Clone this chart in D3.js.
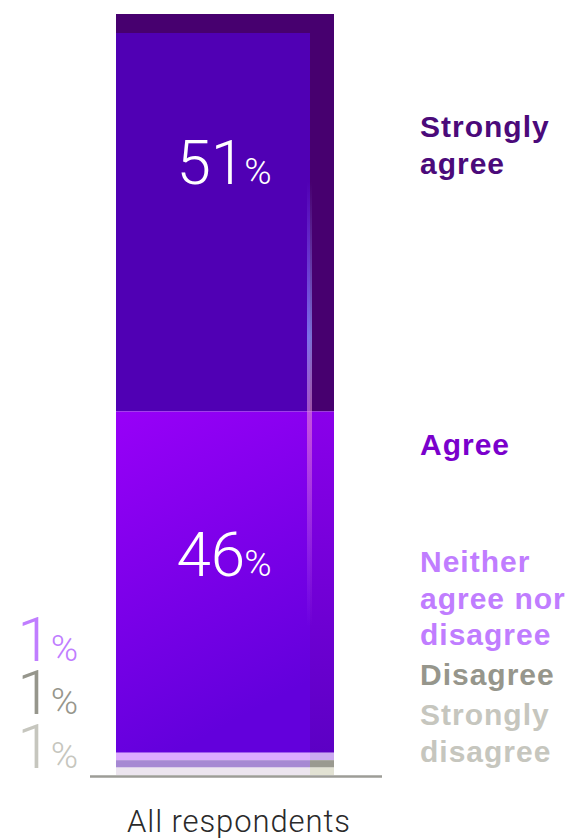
<!DOCTYPE html>
<html>
<head>
<meta charset="utf-8">
<script src="https://cdn.jsdelivr.net/npm/d3@7"></script>
<style>
  html, body { margin: 0; padding: 0; background: #ffffff; }
  svg { display: block; }
</style>
</head>
<body>
<svg id="chart" width="573" height="839"></svg>
<script>
// ---- data ----
const groups = ["All respondents"];
const categories = ["Strongly agree", "Agree", "Neither agree nor disagree", "Disagree", "Strongly disagree"];
const values = [51, 46, 1, 1, 1];
const valueLabels = ["51", "46", "1", "1", "1"];
const labelLines = [["Strongly", "agree"], ["Agree"], ["Neither", "agree nor", "disagree"], ["Disagree"], ["Strongly", "disagree"]];

// ---- styling ----
const frontColors = ["#5000b4", "url(#agreeFront)", "#dda9ff", "#a688d3", "#ece5ef"];
const sideColors  = ["#47006f", "url(#agreeSide)", "#cba9f1", "#9a9a90", "#e2e2d3"];
const textColors  = ["#4b0a7a", "#7a00cc", "#c07dff", "#96968c", "#c6c6be"];

const svg = d3.select("#chart");
const defs = svg.append("defs");
const gf = defs.append("linearGradient").attr("id", "agreeFront").attr("x1", 0).attr("y1", 0).attr("x2", 0.3).attr("y2", 1);
gf.append("stop").attr("offset", "0%").attr("stop-color", "#9800f8");
gf.append("stop").attr("offset", "100%").attr("stop-color", "#6300dc");
const gs = defs.append("linearGradient").attr("id", "agreeSide").attr("x1", 0).attr("y1", 0).attr("x2", 0).attr("y2", 1);
gs.append("stop").attr("offset", "0%").attr("stop-color", "#8a00ea");
gs.append("stop").attr("offset", "100%").attr("stop-color", "#5c00c4");
const gh = defs.append("linearGradient").attr("id", "streak").attr("x1", 0).attr("y1", 0).attr("x2", 0).attr("y2", 1);
gh.append("stop").attr("offset", "0%").attr("stop-color", "#9a8cff").attr("stop-opacity", 0);
gh.append("stop").attr("offset", "35%").attr("stop-color", "#8fa0ff").attr("stop-opacity", 0.7);
gh.append("stop").attr("offset", "55%").attr("stop-color", "#ff9ad0").attr("stop-opacity", 0.5);
gh.append("stop").attr("offset", "100%").attr("stop-color", "#e0a0ff").attr("stop-opacity", 0);

// scales
const y = d3.scaleLinear().domain([0, 100]).range([775, 33]);
const x = d3.scaleBand().domain(groups).range([116, 334]).padding(0);
const sideW = 24;    // depth strip on the right
const topH = 19;     // depth strip on top

// stack from the top (first category on top)
let acc = d3.sum(values);
const segs = values.map((v, i) => { const s = { i, y1: acc, y0: acc - v, v }; acc -= v; return s; });

const g = svg.append("g");
const bx = x(groups[0]), bw = x.bandwidth();

// top depth strip
g.append("rect")
  .attr("x", bx).attr("width", bw)
  .attr("y", y(100) - topH).attr("height", topH)
  .attr("fill", sideColors[0]);

// front faces
g.selectAll("rect.front").data(segs).join("rect")
  .attr("class", "front")
  .attr("x", bx).attr("width", bw - sideW)
  .attr("y", d => y(d.y1)).attr("height", d => y(d.y0) - y(d.y1))
  .attr("fill", d => frontColors[d.i]);

// side faces
g.selectAll("rect.side").data(segs).join("rect")
  .attr("class", "side")
  .attr("x", bx + bw - sideW).attr("width", sideW)
  .attr("y", d => y(d.y1)).attr("height", d => y(d.y0) - y(d.y1))
  .attr("fill", d => sideColors[d.i]);

// light streak on the edge
g.append("rect")
  .attr("x", bx + bw - sideW - 3).attr("width", 5)
  .attr("y", y(80)).attr("height", y(20) - y(80))
  .attr("fill", "url(#streak)");

// baseline
g.append("line")
  .attr("x1", bx - 26).attr("x2", bx + bw + 48)
  .attr("y1", y(0) + 1.5).attr("y2", y(0) + 1.5)
  .attr("stroke", "#9d9d97").attr("stroke-width", 2.5);

// value labels inside bar
const lightFont = "Roboto, 'Liberation Sans', sans-serif";
function pct(sel, num, big, small) {
  sel.append("tspan").attr("font-size", big).text(num);
  sel.append("tspan").attr("font-size", small).attr("dx", -1).text("%");
}
const inner = [{ i: 0, yb: 184 }, { i: 1, yb: 576 }];
inner.forEach(o => {
  const t = g.append("text")
    .attr("x", 224).attr("y", o.yb)
    .attr("text-anchor", "middle")
    .attr("font-family", lightFont).attr("font-weight", 300)
    .attr("fill", "#ffffff");
  pct(t, valueLabels[o.i], 62, 37);
});

// small value labels on the left
const leftLbl = [{ i: 2, yb: 661 }, { i: 3, yb: 714 }, { i: 4, yb: 768 }];
leftLbl.forEach(o => {
  const t = g.append("text")
    .attr("x", 78).attr("y", o.yb)
    .attr("text-anchor", "end")
    .attr("font-family", lightFont).attr("font-weight", 300)
    .attr("fill", textColors[o.i]);
  pct(t, valueLabels[o.i], 62, 37);
});

// category labels on the right
const rightY = [137, 455, 572, 685, 725];
const lh = 36.5;
labelLines.forEach((lines, i) => {
  const t = g.append("text")
    .attr("x", 420).attr("y", rightY[i])
    .attr("font-family", "'Liberation Sans', Arial, sans-serif")
    .attr("font-weight", 700).attr("font-size", 30)
    .attr("letter-spacing", 1)
    .attr("fill", textColors[i]);
  lines.forEach((l, k) => {
    t.append("tspan").attr("x", 420).attr("y", rightY[i] + k * lh).text(l);
  });
});

// x-axis category label
g.append("text")
  .attr("x", 239).attr("y", 832)
  .attr("text-anchor", "middle")
  .attr("font-family", lightFont).attr("font-weight", 300)
  .attr("font-size", 31).attr("letter-spacing", 0.9).attr("fill", "#2a2a2a")
  .text(groups[0]);
</script>
</body>
</html>
